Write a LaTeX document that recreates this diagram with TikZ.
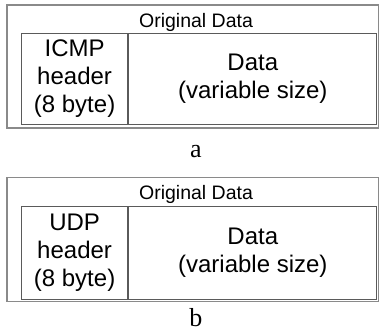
\documentclass[tikz,border=0pt]{standalone}
\usepackage{fontspec}
\setmainfont{Liberation Serif}
\newfontfamily\arialfont{Liberation Sans}
\usepackage{tikz}

\definecolor{outergray}{HTML}{8A8A8A}
\definecolor{innergray}{HTML}{5A5A5A}

\tikzset{
	frame/.style={draw=outergray, line width=1.2pt, anchor=north west, inner sep=0pt},
	cell/.style={draw=innergray, line width=1.2pt, anchor=north west, inner sep=0pt, align=center, font=\arialfont\fontsize{24}{28}\selectfont},
	title/.style={font=\arialfont\fontsize{19.5}{22}\selectfont},
	caption/.style={inner sep=1pt, font=\fontsize{26}{28}\selectfont}
}

\begin{document}
\begin{tikzpicture}[x=1pt, y=-1pt]
	\useasboundingbox (0,0) rectangle (384,334);
	% panel a
	\node[frame, minimum width=371pt, minimum height=123pt] (frameA) at (6.5,4.5) {};
	\node[title] (origA) at (196,22) {Original Data};
	\node[cell, minimum width=106pt, minimum height=91pt] (hdrA) at (21,33) {ICMP\\header\\(8 byte)};
	\node[cell, minimum width=248pt, minimum height=91pt] (dataA) at (hdrA.north east) {Data\\(variable size)};
	\node[caption] (capA) at (196,152) {a};
	% panel b
	\node[frame, minimum width=371pt, minimum height=124pt] (frameB) at (6.5,177) {};
	\node[title] (origB) at (196,194) {Original Data};
	\node[cell, minimum width=106pt, minimum height=93pt] (hdrB) at (21,206) {UDP\\header\\(8 byte)};
	\node[cell, minimum width=248pt, minimum height=93pt] (dataB) at (hdrB.north east) {Data\\(variable size)};
	\node[caption] (capB) at (196,318) {b};
\end{tikzpicture}
\end{document}
